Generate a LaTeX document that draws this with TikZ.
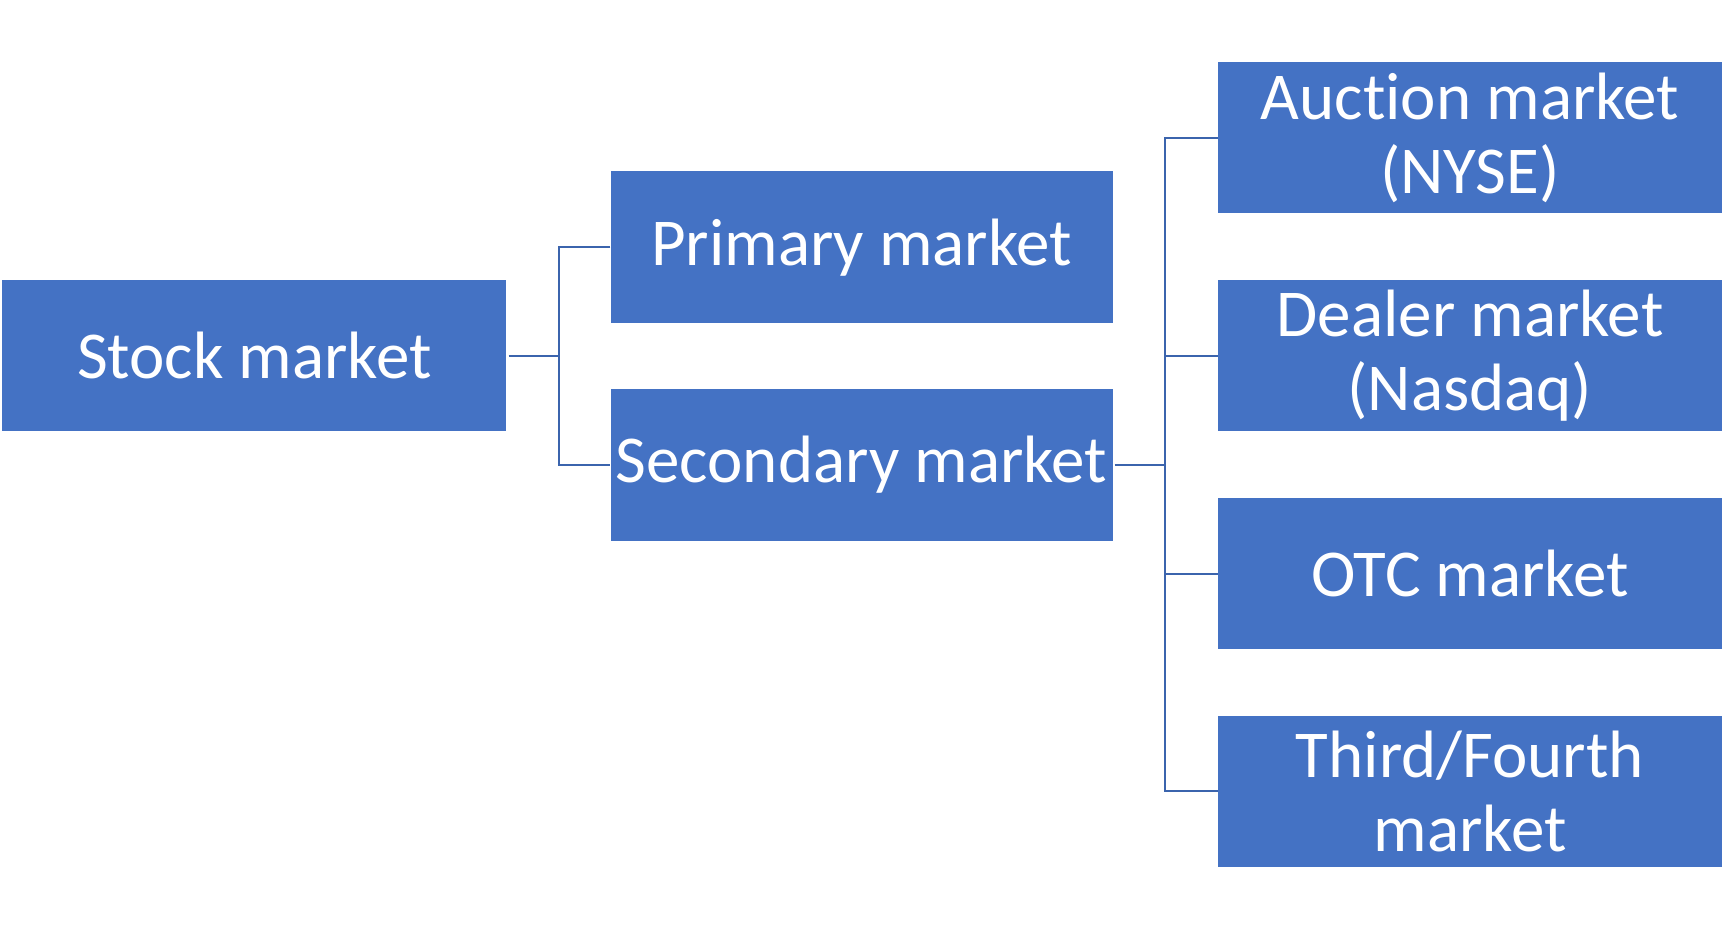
\documentclass[tikz,border=0pt]{standalone}
\usepackage{fontspec}
\setmainfont{Carlito}[Ligatures={NoCommon}]
\definecolor{boxblue}{HTML}{4472C4}
\definecolor{lineblue}{HTML}{3B64AD}
\begin{document}
\begin{tikzpicture}[x=1pt,y=-1pt,
  mbox/.style={fill=boxblue, draw=none, minimum width=504pt, minimum height=151.5pt,
    inner sep=0pt, align=center, text=white, font=\fontsize{67}{74}\selectfont},
  conn/.style={draw=lineblue, line width=2pt}]
\useasboundingbox (0,0) rectangle (1736,931);
\node[mbox] (stock) at (254.3,355.5) {Stock market};
\node[mbox, minimum width=502pt] (prim) at (861.5,247.2) {Primary market};
\node[mbox, minimum width=502pt] (sec) at (861.5,465) {Secondary market};
\node[mbox] (auc) at (1470,137.7) {Auction market\\(NYSE)};
\node[mbox] (deal) at (1470,355.5) {Dealer market\\(Nasdaq)};
\node[mbox] (otc) at (1470,573.5) {OTC market};
\node[mbox] (third) at (1470,791.3) {Third/Fourth\\market};
\coordinate (j1) at (558.5,355.5);
\coordinate (j2) at (1164.6,465);
\draw[conn] ([xshift=2pt]stock.east) -- (j1);
\draw[conn] (prim.west) -- (prim.west -| j1) -- (sec.west -| j1) -- (sec.west);
\draw[conn] ([xshift=2pt]sec.east) -- (j2);
\draw[conn] (auc.west) -- (auc.west -| j2) -- (third.west -| j2) -- (third.west);
\draw[conn] (deal.west) -- (deal.west -| j2);
\draw[conn] (otc.west) -- (otc.west -| j2);
\end{tikzpicture}
\end{document}
